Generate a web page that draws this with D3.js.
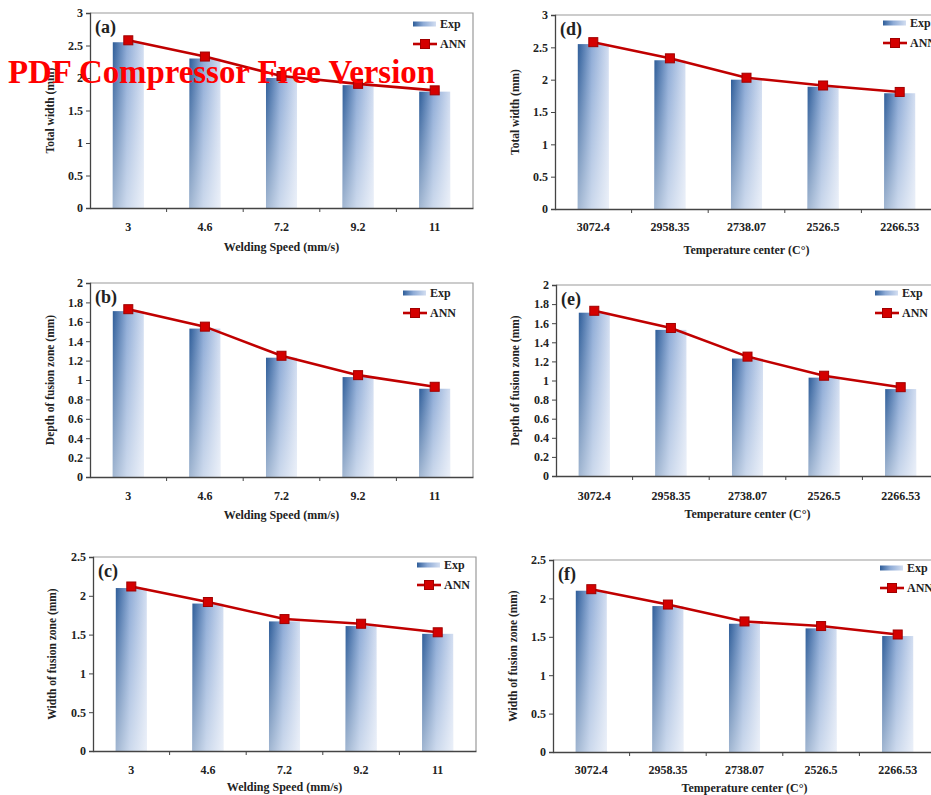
<!DOCTYPE html>
<html>
<head>
<meta charset="utf-8">
<script src="https://cdn.jsdelivr.net/npm/d3@7"></script>
<style>
  html, body { margin: 0; padding: 0; background: #fff; }
  svg { display: block; }
  text { font-family: "Liberation Serif", "Times New Roman", serif; font-weight: bold; fill: #222; }
</style>
</head>
<body>
<svg id="chart" width="931" height="795"></svg>
<script>
// ---------- data ----------
const speedLabels = ["3", "4.6", "7.2", "9.2", "11"];
const tempLabels = ["3072.4", "2958.35", "2738.07", "2526.5", "2266.53"];

const totalWidthExp = [2.55, 2.30, 2.00, 1.89, 1.79];
const totalWidthANN = [2.58, 2.33, 2.03, 1.91, 1.81];

const depthExp = [1.71, 1.53, 1.23, 1.03, 0.91];
const depthANN = [1.73, 1.55, 1.25, 1.05, 0.93];

const fusionWidthExp = [2.10, 1.90, 1.67, 1.61, 1.51];
const fusionWidthANN = [2.12, 1.92, 1.70, 1.64, 1.53];

const seriesNames = ["Exp", "ANN"];
const panelLetters = ["(a)", "(b)", "(c)", "(d)", "(e)", "(f)"];
const speedTitle = "Welding Speed (mm/s)";
const tempTitle = "Temperature center (C°)";
const watermark = "PDF Compressor Free Version";

// ---------- layout ----------
const panels = [
  {lab: panelLetters[0], cats: speedLabels, exp: totalWidthExp, ann: totalWidthANN, ymax: 3, step: 0.5, ytitle: "Total width (mm)", xtitle: speedTitle,
   x0: 90, top: 13, bottom: 208, tickDy: 19, titleDy: 39, ytx: 50, leg: [413, 24]},
  {lab: panelLetters[1], cats: speedLabels, exp: depthExp, ann: depthANN, ymax: 2, step: 0.2, ytitle: "Depth of fusion zone (mm)", xtitle: speedTitle,
   x0: 90, top: 283, bottom: 477, tickDy: 19, titleDy: 38, ytx: 50, leg: [403, 293]},
  {lab: panelLetters[2], cats: speedLabels, exp: fusionWidthExp, ann: fusionWidthANN, ymax: 2.5, step: 0.5, ytitle: "Width of fusion zone (mm)", xtitle: speedTitle,
   x0: 93, top: 557, bottom: 751, tickDy: 19, titleDy: 36, ytx: 52, leg: [417, 565]},
  {lab: panelLetters[3], cats: tempLabels, exp: totalWidthExp, ann: totalWidthANN, ymax: 3, step: 0.5, ytitle: "Total width (mm)", xtitle: tempTitle,
   x0: 555, top: 15, bottom: 209, tickDy: 18, titleDy: 41, ytx: 515, leg: [883, 23]},
  {lab: panelLetters[4], cats: tempLabels, exp: depthExp, ann: depthANN, ymax: 2, step: 0.2, ytitle: "Depth of fusion zone (mm)", xtitle: tempTitle,
   x0: 556, top: 285, bottom: 476, tickDy: 20, titleDy: 38, ytx: 515, leg: [875, 293]},
  {lab: panelLetters[5], cats: tempLabels, exp: fusionWidthExp, ann: fusionWidthANN, ymax: 2.5, step: 0.5, ytitle: "Width of fusion zone (mm)", xtitle: tempTitle,
   x0: 553, top: 560, bottom: 752, tickDy: 18, titleDy: 36, ytx: 513, leg: [880, 568]}
];
const plotW = 383;

const svg = d3.select("#chart");
const defs = svg.append("defs");
const g1 = defs.append("linearGradient").attr("id", "barH").attr("x1", 0).attr("y1", 0).attr("x2", 1).attr("y2", 0);
g1.append("stop").attr("offset", 0).attr("stop-color", "#2e5d99");
g1.append("stop").attr("offset", 0.45).attr("stop-color", "#8eabd6");
g1.append("stop").attr("offset", 1).attr("stop-color", "#d3def1");
const g2 = defs.append("linearGradient").attr("id", "barV").attr("x1", 0).attr("y1", 0).attr("x2", 0).attr("y2", 1);
g2.append("stop").attr("offset", 0).attr("stop-color", "#fff").attr("stop-opacity", 0);
g2.append("stop").attr("offset", 1).attr("stop-color", "#fff").attr("stop-opacity", 0.55);

const fmt = d => String(+d.toFixed(1));
const lineRed = "#c00000";

panels.forEach(p => {
  const x1 = p.x0 + plotW;
  const x = d3.scaleBand().domain(p.cats).range([p.x0, x1]).padding(0);
  const y = d3.scaleLinear().domain([0, p.ymax]).range([p.bottom, p.top]);
  const g = svg.append("g");

  // frame (top and right)
  g.append("path")
    .attr("d", `M${p.x0},${p.top}H${x1}V${p.bottom}`)
    .attr("fill", "none").attr("stroke", "#9a9a9a").attr("stroke-width", 1.2);

  // bars
  const bw = x.step() * 0.405;
  const bars = g.append("g");
  p.cats.forEach((c, i) => {
    const cx = x(c) + x.bandwidth() / 2;
    bars.append("rect").attr("x", cx - bw / 2).attr("y", y(p.exp[i]))
      .attr("width", bw).attr("height", y(0) - y(p.exp[i])).attr("fill", "url(#barH)");
    bars.append("rect").attr("x", cx - bw / 2).attr("y", y(p.exp[i]))
      .attr("width", bw).attr("height", y(0) - y(p.exp[i])).attr("fill", "url(#barV)");
  });

  // y axis
  const ticks = d3.range(0, p.ymax + 1e-9, p.step);
  const ya = g.append("g").attr("transform", `translate(${p.x0},0)`)
    .call(d3.axisLeft(y).tickValues(ticks).tickFormat(fmt).tickSize(4).tickPadding(3));
  ya.attr("font-family", null);
  ya.select(".domain").attr("stroke", "#444").attr("stroke-width", 1.3);
  ya.selectAll(".tick line").attr("stroke", "#444");
  ya.selectAll("text").style("font-size", "12px").attr("fill", "#222");

  // x axis
  const xa = g.append("g").attr("transform", `translate(0,${p.bottom})`)
    .call(d3.axisBottom(x).tickSize(0).tickPadding(0));
  xa.attr("font-family", null);
  xa.select(".domain").attr("stroke", "#444").attr("stroke-width", 1.3);
  xa.selectAll(".tick text").attr("dy", null).attr("y", p.tickDy + 4).style("font-size", "12px").attr("fill", "#222");
  // boundary tick marks
  p.cats.slice(1).forEach(c => {
    g.append("line").attr("x1", x(c)).attr("x2", x(c)).attr("y1", p.bottom).attr("y2", p.bottom + 4)
      .attr("stroke", "#444").attr("stroke-width", 1);
  });

  // ANN line
  const pts = p.cats.map((c, i) => [x(c) + x.bandwidth() / 2, y(p.ann[i])]);
  g.append("path").attr("d", d3.line()(pts)).attr("fill", "none")
    .attr("stroke", lineRed).attr("stroke-width", 2.6);
  g.selectAll(".mk").data(pts).enter().append("rect")
    .attr("x", d => d[0] - 4.5).attr("y", d => d[1] - 4.5).attr("width", 9).attr("height", 9)
    .attr("fill", "#d40000").attr("stroke", "#a00000").attr("stroke-width", 1);

  // panel letter
  g.append("text").attr("x", p.x0 + 5).attr("y", p.top + 20).text(p.lab).style("font-size", "18px");

  // axis titles
  g.append("text").attr("text-anchor", "middle")
    .attr("x", (p.x0 + x1) / 2).attr("y", p.bottom + p.titleDy + 4)
    .text(p.xtitle).style("font-size", "12px");
  g.append("text").attr("text-anchor", "middle")
    .attr("transform", `translate(${p.ytx + 4},${(p.top + p.bottom) / 2}) rotate(-90)`)
    .text(p.ytitle).style("font-size", "11.5px");

  // legend
  const [lx, ly] = p.leg;
  g.append("rect").attr("x", lx).attr("y", ly - 2.5).attr("width", 23).attr("height", 5).attr("fill", "url(#barH)");
  g.append("text").attr("x", lx + 27).attr("y", ly + 4).text(seriesNames[0]).style("font-size", "12px");
  g.append("line").attr("x1", lx).attr("x2", lx + 24).attr("y1", ly + 20).attr("y2", ly + 20)
    .attr("stroke", lineRed).attr("stroke-width", 2.6);
  g.append("rect").attr("x", lx + 7.5).attr("y", ly + 15.5).attr("width", 9).attr("height", 9)
    .attr("fill", "#d40000").attr("stroke", "#a00000");
  g.append("text").attr("x", lx + 27).attr("y", ly + 24).text(seriesNames[1]).style("font-size", "12px");
});

// watermark
svg.append("text").attr("x", 8).attr("y", 83).text(watermark)
  .attr("textLength", 427).attr("lengthAdjust", "spacingAndGlyphs")
  .style("font-size", "33px").style("fill", "#ff0000");
</script>
</body>
</html>
